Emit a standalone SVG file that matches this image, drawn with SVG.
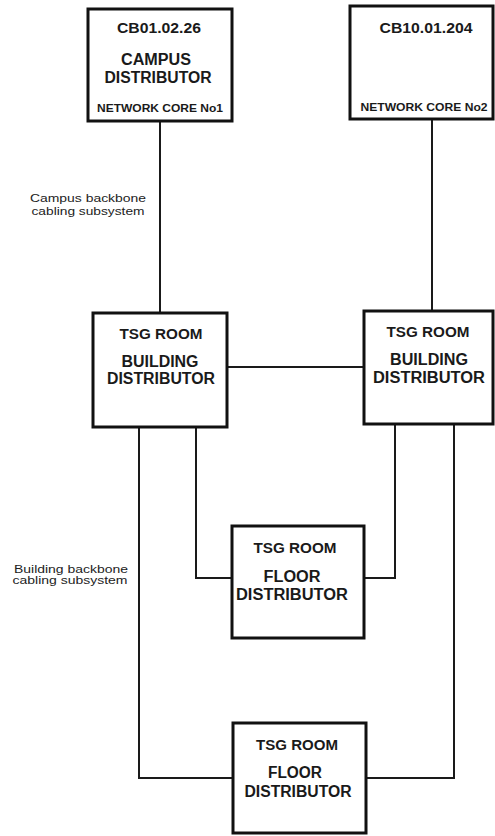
<svg xmlns="http://www.w3.org/2000/svg" width="495" height="836" viewBox="0 0 495 836">
  <style>
    .box { fill: #ffffff; stroke: #111; stroke-width: 3; }
    .wire { fill: none; stroke: #1a1a1a; stroke-width: 2; }
    .t { font-family: "Liberation Sans", Arial, sans-serif; font-weight: bold; fill: #1a1a1a; text-anchor: middle; }
    .big { font-size: 16px; }
    .mid { font-size: 14px; }
    .small { font-size: 11px; }
    .note { font-family: "Liberation Sans", Arial, sans-serif; font-size: 11.5px; fill: #222; text-anchor: middle; }
  </style>
  <rect width="495" height="836" fill="#ffffff"/>

  <!-- connectors -->
  <g id="connectors">
    <line class="wire" x1="160" y1="121" x2="160" y2="313"/>
    <line class="wire" x1="432" y1="119" x2="432" y2="311"/>
    <line class="wire" x1="227" y1="367" x2="364" y2="367"/>
    <polyline class="wire" points="139,427 139,778 233,778"/>
    <polyline class="wire" points="196,427 196,578 232,578"/>
    <polyline class="wire" points="395,424 395,578 364,578"/>
    <polyline class="wire" points="454,424 454,778 366,778"/>
  </g>

  <g id="campus-distributor">
    <rect class="box" x="88" y="9" width="144" height="112"/>
    <text class="t mid" x="159" y="33" textLength="84" lengthAdjust="spacingAndGlyphs">CB01.02.26</text>
    <text class="t big" x="156" y="65" textLength="70" lengthAdjust="spacingAndGlyphs">CAMPUS</text>
    <text class="t big" x="158" y="83" textLength="107" lengthAdjust="spacingAndGlyphs">DISTRIBUTOR</text>
    <text class="t small" x="160" y="112" textLength="126" lengthAdjust="spacingAndGlyphs">NETWORK CORE No1</text>
  </g>

  <g id="network-core-2">
    <rect class="box" x="350" y="6" width="143" height="113"/>
    <text class="t mid" x="426" y="33" textLength="93" lengthAdjust="spacingAndGlyphs">CB10.01.204</text>
    <text class="t small" x="424" y="111" textLength="127" lengthAdjust="spacingAndGlyphs">NETWORK CORE No2</text>
  </g>

  <g id="building-distributor-1">
    <rect class="box" x="93" y="313" width="134" height="114"/>
    <text class="t mid" x="161" y="339" textLength="83" lengthAdjust="spacingAndGlyphs">TSG ROOM</text>
    <text class="t big" x="160" y="367" textLength="77" lengthAdjust="spacingAndGlyphs">BUILDING</text>
    <text class="t big" x="161" y="384" textLength="108" lengthAdjust="spacingAndGlyphs">DISTRIBUTOR</text>
  </g>

  <g id="building-distributor-2">
    <rect class="box" x="364" y="311" width="129" height="113"/>
    <text class="t mid" x="428" y="337" textLength="83" lengthAdjust="spacingAndGlyphs">TSG ROOM</text>
    <text class="t big" x="429" y="365" textLength="78" lengthAdjust="spacingAndGlyphs">BUILDING</text>
    <text class="t big" x="429" y="383" textLength="112" lengthAdjust="spacingAndGlyphs">DISTRIBUTOR</text>
  </g>

  <g id="floor-distributor-1">
    <rect class="box" x="232" y="526" width="132" height="112"/>
    <text class="t mid" x="295" y="553" textLength="83" lengthAdjust="spacingAndGlyphs">TSG ROOM</text>
    <text class="t big" x="292" y="582" textLength="57" lengthAdjust="spacingAndGlyphs">FLOOR</text>
    <text class="t big" x="292" y="600" textLength="112" lengthAdjust="spacingAndGlyphs">DISTRIBUTOR</text>
  </g>

  <g id="floor-distributor-2">
    <rect class="box" x="233" y="723" width="133" height="110"/>
    <text class="t mid" x="297" y="750" textLength="82" lengthAdjust="spacingAndGlyphs">TSG ROOM</text>
    <text class="t big" x="295" y="778" textLength="54" lengthAdjust="spacingAndGlyphs">FLOOR</text>
    <text class="t big" x="298" y="797" textLength="107" lengthAdjust="spacingAndGlyphs">DISTRIBUTOR</text>
  </g>

  <g id="labels">
    <text class="note" x="88" y="202" textLength="116" lengthAdjust="spacingAndGlyphs">Campus backbone</text>
    <text class="note" x="88" y="215" textLength="113" lengthAdjust="spacingAndGlyphs">cabling subsystem</text>
    <text class="note" x="71" y="573" textLength="114" lengthAdjust="spacingAndGlyphs">Building backbone</text>
    <text class="note" x="70" y="584" textLength="115" lengthAdjust="spacingAndGlyphs">cabling subsystem</text>
  </g>
</svg>
